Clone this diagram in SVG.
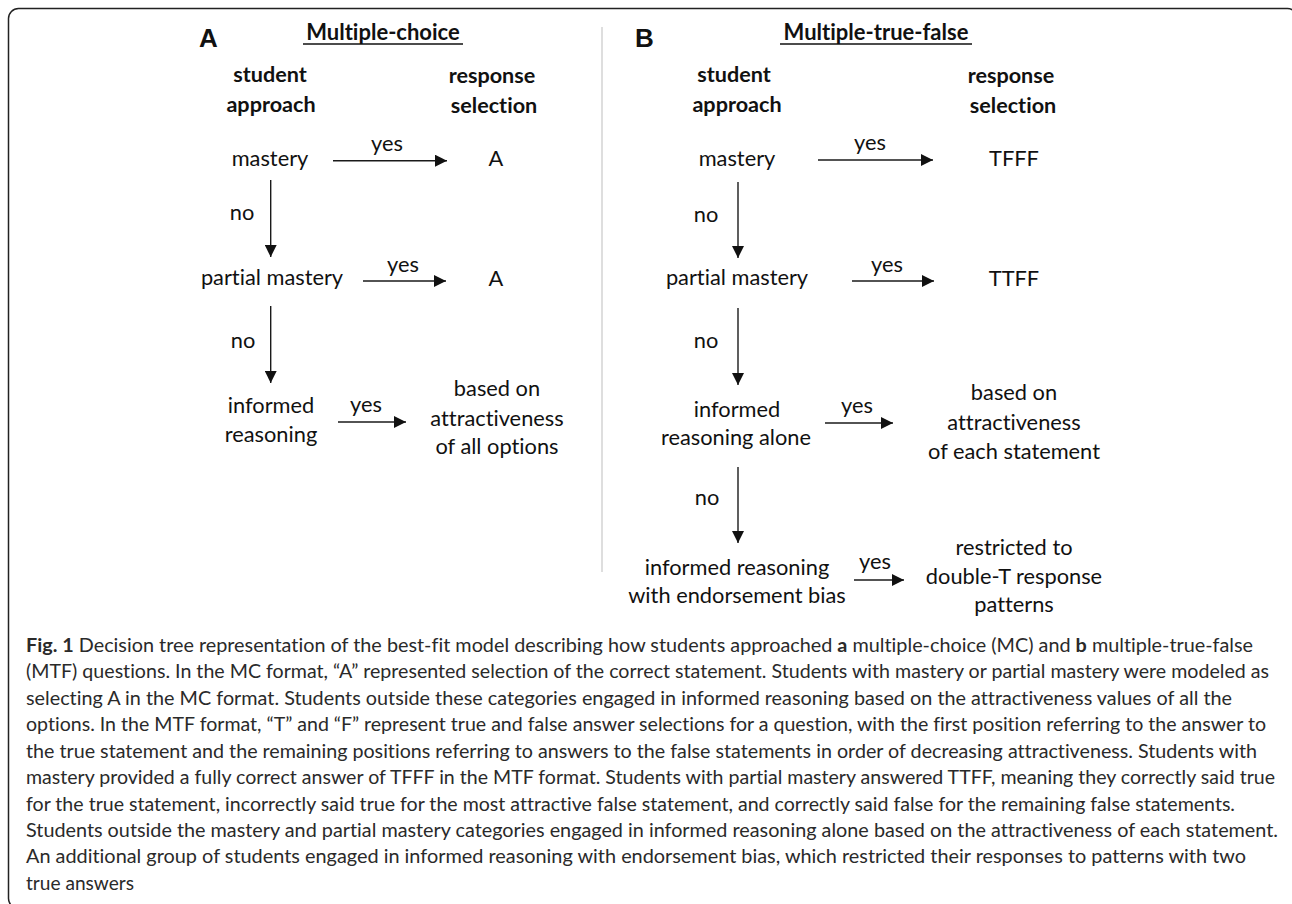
<svg xmlns="http://www.w3.org/2000/svg" width="1292" height="904" viewBox="0 0 1292 904">
<defs>
<marker id="ah" markerUnits="userSpaceOnUse" markerWidth="12" markerHeight="12" refX="12" refY="6" orient="auto">
<path d="M0,0 L12,6 L0,12 z" fill="#111"/>
</marker>
<style>
text{font-variant-ligatures:none}
.t{font-family:Lato,"Open Sans","Liberation Sans",sans-serif;font-size:21.8px;fill:#111;text-anchor:middle}
.h{font-family:Lato,"Open Sans","Liberation Sans",sans-serif;font-size:21.6px;font-weight:bold;fill:#111;text-anchor:middle}
.ttl{font-family:Lato,"Open Sans","Liberation Sans",sans-serif;font-size:22px;font-weight:bold;fill:#111;text-anchor:middle}
.pl{font-family:"Liberation Sans",Arial,sans-serif;font-size:26px;font-weight:bold;fill:#111}
.cap{font-family:Lato,"Open Sans","Liberation Sans",sans-serif;font-size:18.5px;fill:#2a2a2a}
.cap .b{font-weight:bold}
.c{stroke:#1a1a1a;stroke-width:1.4;fill:none;marker-end:url(#ah)}
.ul{stroke:#111;stroke-width:1.5}
</style>
</defs>
<rect x="8.5" y="8.5" width="1289" height="900" rx="10" fill="none" stroke="#222" stroke-width="1.5"/>
<line x1="602" y1="27" x2="602" y2="572" stroke="#bdbdbd" stroke-width="1"/>

<g id="panelA-header">
<text class="pl" x="199" y="47">A</text>
<text class="ttl" x="383" y="40">Multiple-choice</text>
<line class="ul" x1="303" y1="44" x2="463" y2="44"/>
<text class="h" x="270" y="82">student</text>
<text class="h" x="271" y="112">approach</text>
<text class="h" x="492" y="83">response</text>
<text class="h" x="494" y="113">selection</text>
</g>
<g id="a-mastery"><text class="t" x="270" y="166">mastery</text></g>
<g id="a-resp-mastery"><text class="t" x="496" y="166">A</text></g>
<g id="a-partial"><text class="t" x="272" y="285">partial mastery</text></g>
<g id="a-resp-partial"><text class="t" x="496" y="286">A</text></g>
<g id="a-informed"><text class="t" x="271" y="413">informed</text><text class="t" x="271" y="442">reasoning</text></g>
<g id="a-resp-informed"><text class="t" x="497" y="396">based on</text><text class="t" x="497" y="426">attractiveness</text><text class="t" x="497" y="454">of all options</text></g>

<g id="panelB-header">
<text class="pl" x="635" y="47">B</text>
<text class="ttl" x="876" y="40">Multiple-true-false</text>
<line class="ul" x1="780" y1="44" x2="972" y2="44"/>
<text class="h" x="734" y="82">student</text>
<text class="h" x="737" y="112">approach</text>
<text class="h" x="1011" y="83">response</text>
<text class="h" x="1013" y="113">selection</text>
</g>
<g id="b-mastery"><text class="t" x="737" y="166">mastery</text></g>
<g id="b-resp-mastery"><text class="t" x="1014" y="166">TFFF</text></g>
<g id="b-partial"><text class="t" x="737" y="285">partial mastery</text></g>
<g id="b-resp-partial"><text class="t" x="1014" y="286">TTFF</text></g>
<g id="b-informed"><text class="t" x="737" y="417">informed</text><text class="t" x="736" y="445">reasoning alone</text></g>
<g id="b-resp-informed"><text class="t" x="1014" y="400">based on</text><text class="t" x="1014" y="430">attractiveness</text><text class="t" x="1014" y="459">of each statement</text></g>
<g id="b-bias"><text class="t" x="737" y="575">informed reasoning</text><text class="t" x="737" y="603">with endorsement bias</text></g>
<g id="b-resp-bias"><text class="t" x="1014" y="555">restricted to</text><text class="t" x="1014" y="584">double-T response</text><text class="t" x="1014" y="612">patterns</text></g>

<g id="connectors">
<path class="c" d="M333,160.7 H447"/>
<path class="c" d="M270.7,180 V257"/>
<path class="c" d="M363,281 H446"/>
<path class="c" d="M270.7,306 V383"/>
<path class="c" d="M338,422 H406"/>
<path class="c" d="M818,160 H933"/>
<path class="c" d="M738,182 V258"/>
<path class="c" d="M852,281 H934"/>
<path class="c" d="M738,308 V385"/>
<path class="c" d="M825,423 H893"/>
<path class="c" d="M738,467 V543"/>
<path class="c" d="M854,580 H904"/>
<text class="t" x="387" y="151">yes</text>
<text class="t" x="242" y="220">no</text>
<text class="t" x="403" y="272">yes</text>
<text class="t" x="243" y="348">no</text>
<text class="t" x="366" y="412">yes</text>
<text class="t" x="870" y="150">yes</text>
<text class="t" x="706" y="222">no</text>
<text class="t" x="887" y="272">yes</text>
<text class="t" x="706" y="348">no</text>
<text class="t" x="857" y="413">yes</text>
<text class="t" x="707" y="505">no</text>
<text class="t" x="875" y="569">yes</text>
</g>

<g id="caption" class="cap">
<text x="26" y="652" textLength="1227" lengthAdjust="spacingAndGlyphs"><tspan class="b">Fig. 1</tspan> Decision tree representation of the best-fit model describing how students approached <tspan class="b">a</tspan> multiple-choice (MC) and <tspan class="b">b</tspan> multiple-true-false</text>
<text x="26" y="678" textLength="1243" lengthAdjust="spacingAndGlyphs">(MTF) questions. In the MC format, “A” represented selection of the correct statement. Students with mastery or partial mastery were modeled as</text>
<text x="26" y="705" textLength="1206" lengthAdjust="spacingAndGlyphs">selecting A in the MC format. Students outside these categories engaged in informed reasoning based on the attractiveness values of all the</text>
<text x="26" y="731" textLength="1240" lengthAdjust="spacingAndGlyphs">options. In the MTF format, “T” and “F” represent true and false answer selections for a question, with the first position referring to the answer to</text>
<text x="26" y="758" textLength="1231" lengthAdjust="spacingAndGlyphs">the true statement and the remaining positions referring to answers to the false statements in order of decreasing attractiveness. Students with</text>
<text x="26" y="784" textLength="1249" lengthAdjust="spacingAndGlyphs">mastery provided a fully correct answer of TFFF in the MTF format. Students with partial mastery answered TTFF, meaning they correctly said true</text>
<text x="26" y="811" textLength="1209" lengthAdjust="spacingAndGlyphs">for the true statement, incorrectly said true for the most attractive false statement, and correctly said false for the remaining false statements.</text>
<text x="26" y="837" textLength="1252" lengthAdjust="spacingAndGlyphs">Students outside the mastery and partial mastery categories engaged in informed reasoning alone based on the attractiveness of each statement.</text>
<text x="26" y="863" textLength="1220" lengthAdjust="spacingAndGlyphs">An additional group of students engaged in informed reasoning with endorsement bias, which restricted their responses to patterns with two</text>
<text x="26" y="890" textLength="108" lengthAdjust="spacingAndGlyphs">true answers</text>
</g>
</svg>
